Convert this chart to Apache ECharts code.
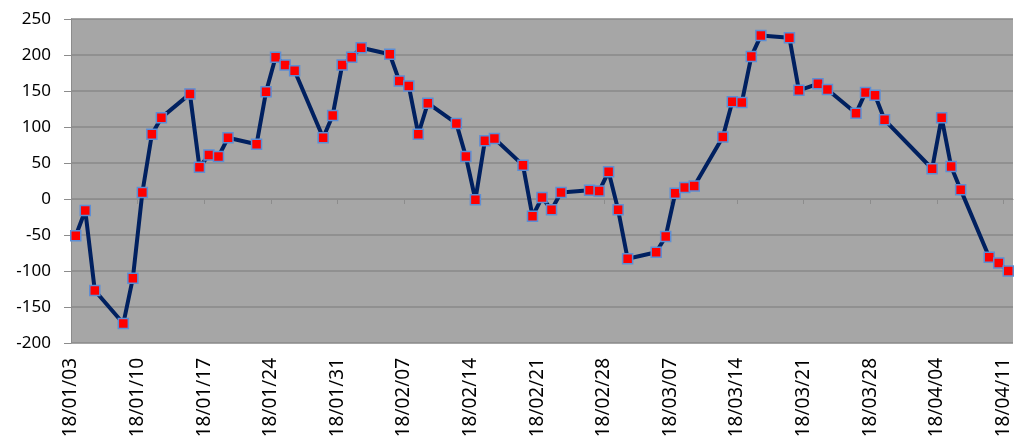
<!DOCTYPE html>
<html>
<head>
<meta charset="utf-8">
<title>Daily series</title>
<script src="https://cdn.jsdelivr.net/npm/echarts@6/dist/echarts.min.js"></script>
<style>
  html, body { margin: 0; padding: 0; background: #ffffff; }
  #chart { width: 1014px; height: 444px; }
</style>
</head>
<body>
<div id="chart"></div>
<script>
// Trading dates (YY/MM/DD) and their values
const dates = [
  '18/01/03','18/01/04','18/01/05','18/01/08','18/01/09','18/01/10','18/01/11','18/01/12',
  '18/01/15','18/01/16','18/01/17','18/01/18','18/01/19','18/01/22','18/01/23','18/01/24',
  '18/01/25','18/01/26','18/01/29','18/01/30','18/01/31','18/02/01','18/02/02','18/02/05',
  '18/02/06','18/02/07','18/02/08','18/02/09','18/02/12','18/02/13','18/02/14','18/02/15',
  '18/02/16','18/02/19','18/02/20','18/02/21','18/02/22','18/02/23','18/02/26','18/02/27',
  '18/02/28','18/03/01','18/03/02','18/03/05','18/03/06','18/03/07','18/03/08','18/03/09',
  '18/03/12','18/03/13','18/03/14','18/03/15','18/03/16','18/03/19','18/03/20','18/03/22',
  '18/03/23','18/03/26','18/03/27','18/03/28','18/03/29','18/04/03','18/04/04','18/04/05',
  '18/04/06','18/04/09','18/04/10','18/04/11'
];
const values = [
  -51, -16, -127, -173, -110, 9, 90, 113,
  146, 44, 61, 59, 85, 76, 149, 197,
  186, 178, 85, 116, 186, 197, 210, 201,
  164, 157, 90, 133, 105, 59, -1, 81,
  84, 47, -24, 2, -15, 9, 12, 11,
  38, -15, -83, -74, -52, 8, 16, 18,
  86, 135, 134, 198, 227, 224, 151, 160,
  152, 119, 148, 144, 110, 42, 113, 45,
  13, -81, -89, -100
];
// Axis range: first day through the day after the last date
const startDate = '18/01/03';
const endDate = '18/04/12';
const yTicks = { min: -200, max: 250, step: 50 };

const DAY = 86400000;
function toUtc(s) {
  const p = s.split('/').map(Number);
  return Date.UTC(2000 + p[0], p[1] - 1, p[2]);
}
const t0 = toUtc(startDate);
const dayOf = s => Math.round((toUtc(s) - t0) / DAY);
function fmtDay(d) {
  const dt = new Date(t0 + d * DAY);
  const pad = n => String(n).padStart(2, '0');
  return pad(dt.getUTCFullYear() % 100) + '/' + pad(dt.getUTCMonth() + 1) + '/' + pad(dt.getUTCDate());
}

// each point sits in the middle of its day slot
const points = dates.map((d, i) => [dayOf(d) + 0.5, values[i]]);

const chart = echarts.init(document.getElementById('chart'), null, { renderer: 'canvas' });
chart.setOption({
  animation: false,
  grid: {
    left: 71, right: 1, top: 19, bottom: 101,
    show: true, backgroundColor: '#A6A6A6', borderWidth: 0
  },
  xAxis: {
    type: 'value',
    min: 0,
    max: dayOf(endDate),
    interval: 7,
    axisLine: { show: true, lineStyle: { color: '#8C8C8C', width: 1 } },
    axisTick: { show: true, length: 5, lineStyle: { color: '#8C8C8C' } },
    splitLine: { show: false },
    axisLabel: {
      rotate: 90,
      margin: 15,
      color: '#000000',
      fontFamily: 'Noto Sans',
      fontSize: 19,
      showMaxLabel: false,
      formatter: v => (Math.round(v) % 7 === 0 ? fmtDay(Math.round(v)) : '')
    }
  },
  yAxis: {
    type: 'value',
    min: yTicks.min,
    max: yTicks.max,
    interval: yTicks.step,
    axisLine: { show: true, lineStyle: { color: '#8C8C8C', width: 1 } },
    axisTick: { show: true, length: 7, lineStyle: { color: '#8C8C8C' } },
    splitLine: { show: true, lineStyle: { color: '#888888', width: 1.5 } },
    axisLabel: {
      margin: 20,
      color: '#000000',
      fontFamily: 'Noto Sans',
      fontSize: 17
    }
  },
  series: [{
    type: 'line',
    data: points,
    symbol: 'rect',
    symbolSize: 10,
    lineStyle: { color: '#002060', width: 4 },
    itemStyle: { color: '#FF0000', borderColor: '#5B8ED6', borderWidth: 1.5 },
    z: 3
  }]
});
</script>
</body>
</html>
